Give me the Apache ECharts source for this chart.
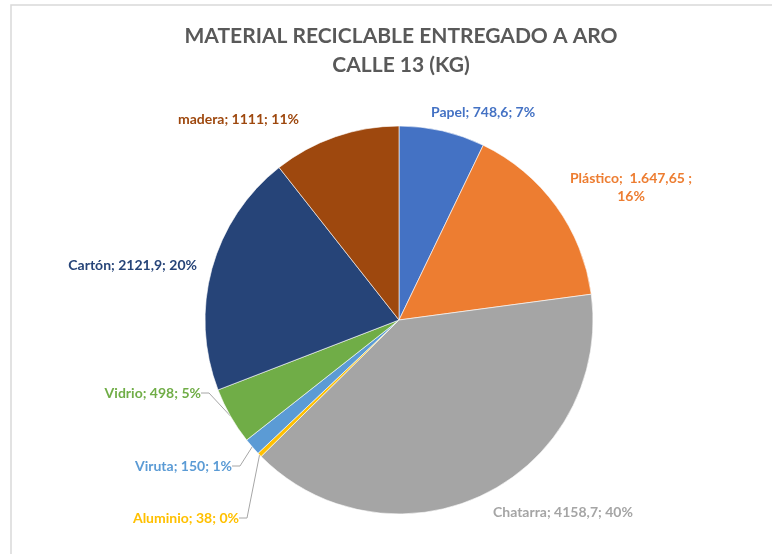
<!DOCTYPE html>
<html>
<head>
<meta charset="utf-8">
<script src="https://cdn.jsdelivr.net/npm/echarts@6/dist/echarts.min.js"></script>
<style>
html, body { margin: 0; padding: 0; background: #fff; }
#container { width: 772px; height: 554px; }
</style>
</head>
<body>
<div id="container"></div>
<script>
// data
let materials = ['Papel', 'Plástico', 'Chatarra', 'Aluminio', 'Viruta', 'Vidrio', 'Cartón', 'madera'];
let kilos = [748.6, 1647.65, 4158.7, 38, 150, 498, 2121.9, 1111];
let kiloText = ['748,6', ' 1.647,65 ', '4158,7', '38', '150', '498', '2121,9', '1111'];
let colors = ['#4472C4', '#ED7D31', '#A5A5A5', '#FFC000', '#5B9BD5', '#70AD47', '#264478', '#9E480E'];

// where the data labels sit (Excel kept them by hand)
let labelSpots = [
    {x: 431, y: 112, align: 'left'},
    {x: 631, y: 187, align: 'center'},
    {x: 493, y: 512, align: 'left'},
    {x: 239, y: 518, align: 'right'},
    {x: 232, y: 466, align: 'right'},
    {x: 201, y: 393, align: 'right'},
    {x: 197, y: 265, align: 'right'},
    {x: 299, y: 119, align: 'right'}
];
let withLine = ['Aluminio', 'Viruta', 'Vidrio'];

let pieData = materials.map((m, i) => ({
    name: m,
    value: kilos[i],
    itemStyle: {color: colors[i]},
    label: {color: colors[i]},
    labelLine: {show: withLine.indexOf(m) >= 0}
}));

let chart = echarts.init(document.getElementById('container'));

chart.setOption({
    animation: false,
    title: {
        text: 'MATERIAL RECICLABLE ENTREGADO A ARO\nCALLE 13 (KG)',
        // centred over the pie, not the canvas
        left: 396,
        textAlign: 'center',
        top: 17,
        textStyle: {
            fontFamily: 'Lato',
            fontSize: 21,
            fontWeight: 'bold',
            color: '#595959',
            lineHeight: 29
        }
    },
    graphic: [{
        type: 'rect',
        shape: {x: 11, y: 5, width: 800, height: 600},
        style: {fill: 'none', stroke: '#D9D9D9', lineWidth: 1.5},
        silent: true
    }],
    series: [{
        type: 'pie',
        center: [399, 320],
        radius: 194,
        startAngle: 90,
        clockwise: true,
        avoidLabelOverlap: false,
        itemStyle: {borderColor: '#fff', borderWidth: 0.6},
        label: {
            show: true,
            fontFamily: 'Lato',
            fontSize: 14,
            fontWeight: 'bold',
            lineHeight: 18,
            formatter: (p) => {
                let t = p.name + '; ' + kiloText[p.dataIndex] + ';';
                let pc = Math.round(p.percent) + '%';
                return p.name === 'Plástico' ? t + '\n' + pc : t + ' ' + pc;
            }
        },
        labelLine: {
            lineStyle: {color: '#A6A6A6', width: 1},
            length: 10,
            length2: 8
        },
        labelLayout: (params) => {
            let s = labelSpots[params.dataIndex];
            return {x: s.x, y: s.y, align: s.align, verticalAlign: 'middle', hideOverlap: false};
        },
        emphasis: {disabled: true},
        data: pieData
    }]
});
</script>
</body>
</html>
